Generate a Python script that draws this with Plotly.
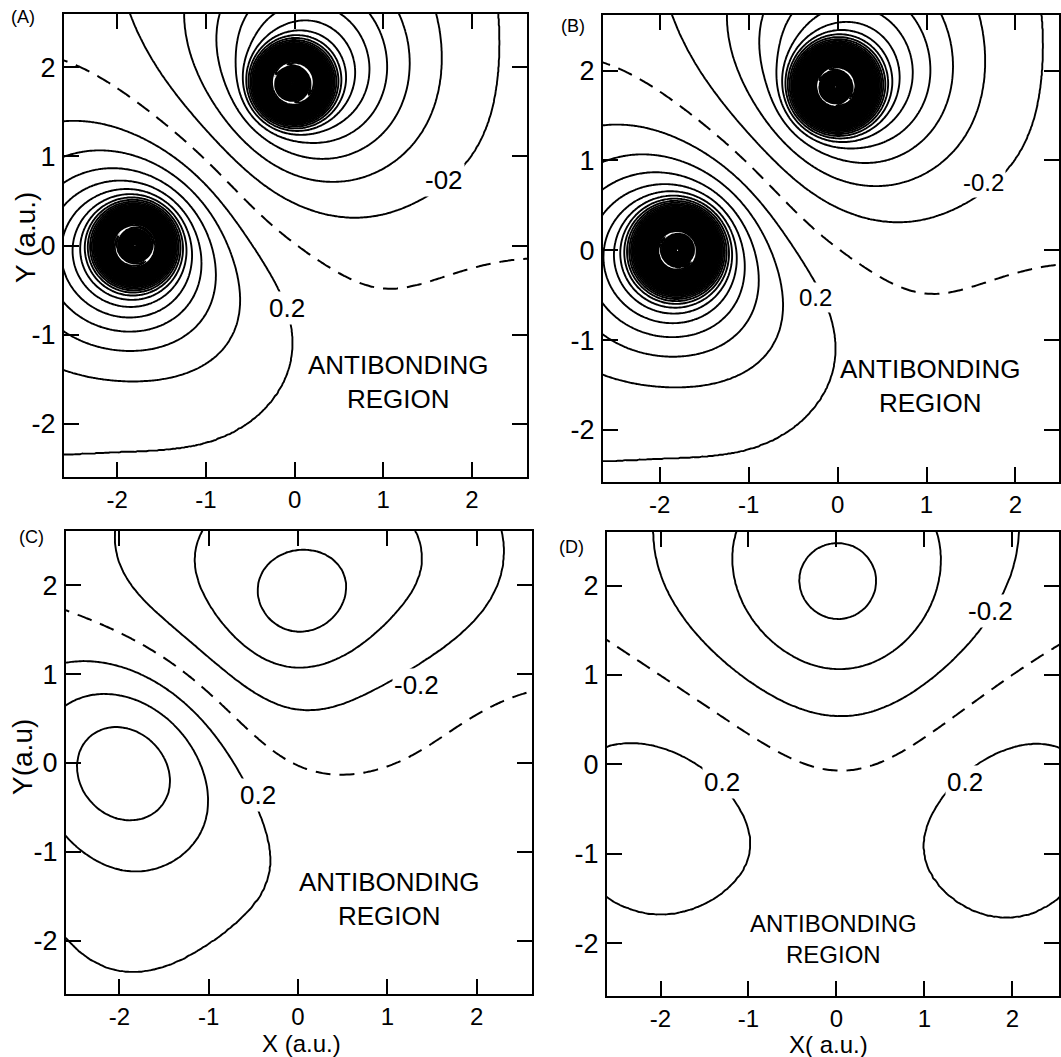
import numpy as np
import plotly.graph_objects as go

FONT = "Liberation Sans, Arial, Helvetica, sans-serif"
W, H = 1061, 1057

# ---------------------------------------------------------------- ticks
tick_vals = [-2, -1, 0, 1, 2]
tick_text = ["-2", "-1", "0", "1", "2"]

# ================================================================ panel A (valence part shared with B)
AB_atom_x = [-1.80, -0.02]
AB_atom_y = [0.00, 1.82]
AB_atom_sign = [1.0, -1.0]
A_core = [25.0, 0.25, 28.5, 0.17]      # core ripple amplitudes / widths
B_core = [22.0, 0.28, 24.0, 0.15]

# contour points: one list per contour line
AB_levels = [0.0, -0.2, -0.4, -0.6, -0.8, -1.0, -1.2, 0.2, 0.4, 0.6, 0.8, 1.0]
AB_line_x = [
    [-2.60, -1.93, -1.29, -0.66, -0.09, 0.47, 1.03, 1.78, 2.55],
    [-1.82, -1.40, -0.66, 0.00, 0.47, 1.03, 1.54, 1.91, 2.15, 2.38, 2.47],
    [-1.26, -1.10, -0.84, -0.47, 0.00, 0.36, 1.03, 1.40, 1.63, 1.55, 1.54],
    [1.20, 1.22],
    [0.99],
    [0.82],
    [0.73],
    [-2.60, -1.97, -0.35, -0.26, -0.18, -0.22, -0.37, -1.05, -1.80, -2.60],
    [-2.60, -1.97, -0.73, -0.52, -0.67, -1.05, -1.80, -2.60],
    [-0.96, -1.80],
    [-1.07, -1.80],
    [-1.16, -1.80],
]
AB_line_y = [
    [2.08, 1.72, 1.18, 0.62, 0.09, -0.28, -0.46, -0.38, -0.06],
    [2.60, 1.75, 0.84, 0.38, 0.28, 0.38, 0.62, 0.99, 1.40, 1.89, 2.60],
    [2.60, 2.08, 1.52, 1.14, 0.84, 0.77, 0.84, 1.07, 1.52, 2.08, 2.60],
    [2.60, 1.82],
    [1.82],
    [1.82],
    [1.82],
    [1.33, 1.40, 0.00, -0.51, -0.92, -1.35, -1.91, -2.40, -2.49, -2.40],
    [1.05, 1.07, 0.00, -0.45, -0.97, -1.35, -1.50, -1.35],
    [0.00, -1.12],
    [0.00, -0.97],
    [0.00, -0.83],
]
AB_anchor_x = [1.5, 2.3, 0.5, 1.0, 2.4, 2.45, -2.5, 2.55, -2.55]
AB_anchor_y = [-1.5, -2.3, -2.3, -1.0, -1.3, 0.45, 2.5, 2.55, -2.55]
AB_anchor_v = [0.08, 0.07, 0.12, 0.08, 0.07, -0.08, -0.12, -0.17, 0.18]

# ================================================================ panel C
C_atom_x = [-1.87, 0.04]
C_atom_y = [-0.12, 1.82]
C_levels = [0.0, -0.2, -0.4, -0.6, 0.2, 0.4, 0.6]
C_line_x = [
    [-2.60, -1.63, -0.68, 0.08, 0.60, 1.59, 2.60],
    [-1.97, -1.63, -1.21, -0.68, -0.11, 0.45, 1.10, 1.59, 1.97, 2.27],
    [-1.26, -1.21, -0.91, -0.38, 0.08, 0.64, 1.02, 1.32, 1.36],
    [-0.45, 0.53, 0.04, 0.04],
    [-2.60, -2.19, -1.63, -1.06, -0.68, -0.60, -0.42, -0.34, -0.45, -0.87, -1.21, -1.89, -2.60],
    [-2.60, -1.89, -1.06, -1.02, -1.89, -2.60],
    [-2.38, -1.87, -1.38, -1.87],
]
C_line_y = [
    [1.68, 1.25, 0.40, -0.03, -0.17, 0.24, 0.90],
    [2.60, 2.03, 1.53, 1.06, 0.79, 0.75, 0.95, 1.20, 1.64, 2.60],
    [2.60, 1.88, 1.41, 1.16, 1.12, 1.25, 1.53, 2.03, 2.60],
    [1.82, 1.82, 2.25, 1.38],
    [1.00, 1.02, 0.86, 0.47, 0.01, -0.26, -0.54, -1.08, -1.55, -1.94, -2.17, -2.29, -2.11],
    [0.81, 0.94, 0.05, -0.30, -1.18, -0.91],
    [-0.15, 0.38, -0.09, -0.63],
]
C_anchor_x = [-1.87, 0.04, 1.5, 2.3, 0.5, 1.0, 2.4, 2.45, -2.5, 2.55, -2.55, 0.6]
C_anchor_y = [-0.12, 1.82, -1.5, -2.3, -2.3, -1.0, -1.3, 0.3, 2.5, 2.55, -2.55, -0.6]
C_anchor_v = [0.70, -0.70, 0.08, 0.07, 0.12, 0.09, 0.07, 0.04, -0.12, -0.15, 0.15, 0.10]

# ================================================================ panel D
D_atom_x = [0.015, -2.0, 1.9]
D_atom_y = [2.05, -0.7, -0.7]
D_levels = [0.0, -0.2, -0.4, -0.6, 0.2, 0.2]
D_line_x = [
    [-2.59, -1.56, -0.80, 0.00, 0.72, 1.48, 2.50],
    [-2.11, -1.75, -1.18, -0.42, 0.02, 0.53, 1.10, 1.59, 1.86, 2.09],
    [-1.18, -1.10, -0.80, -0.42, 0.02, 0.53, 0.91, 1.16, 1.18],
    [-0.38, 0.41, 0.015, 0.015],
    [-2.59, -2.24, -1.82, -1.56, -1.31, -1.18, -1.04, -1.10, -1.40, -1.82, -2.20, -2.59],
    [2.50, 2.16, 1.78, 1.52, 1.46, 1.21, 1.02, 1.02, 1.25, 1.67, 2.16, 2.50],
]
D_line_y = [
    [1.40, 0.66, 0.19, -0.03, 0.11, 0.62, 1.32],
    [2.60, 1.75, 1.16, 0.70, 0.58, 0.66, 0.97, 1.52, 1.95, 2.53],
    [2.60, 1.87, 1.40, 1.13, 1.03, 1.16, 1.52, 2.06, 2.60],
    [2.05, 2.05, 2.43, 1.67],
    [0.21, 0.27, 0.19, 0.03, -0.20, -0.40, -0.98, -1.34, -1.61, -1.69, -1.61, -1.43],
    [0.19, 0.25, 0.17, 0.03, -0.20, -0.40, -0.87, -1.26, -1.57, -1.71, -1.65, -1.41],
]
D_anchor_x = [0.015, -2.0, 1.9, 0.0, 0.0, -0.6, 0.6, -2.4, 2.4, -1.6, 1.7, -2.5, 2.5, -2.5, 2.5]
D_anchor_y = [2.05, -0.7, -0.7, -1.0, -2.0, -2.4, -2.4, 1.9, 2.0, 1.1, 1.1, 2.55, 2.55, -2.5, -2.5]
D_anchor_v = [-0.72, 0.32, 0.32, 0.10, 0.08, 0.09, 0.09, -0.10, -0.10, -0.10, -0.10, -0.15, -0.15, 0.12, 0.12]

# ================================================================ texts
A_labels = [("-02", 1.69, 0.74), ("0.2", -0.08, -0.70)]
B_labels = [("-0.2", 1.64, 0.75), ("0.2", -0.25, -0.53)]
C_labels = [("-0.2", 1.33, 0.88), ("0.2", -0.45, -0.36)]
D_labels = [("-0.2", 1.75, 1.72), ("0.2", -1.30, -0.20), ("0.2", 1.46, -0.20)]
region_lines = ["ANTIBONDING", "REGION"]
region_xy = [(1.17, -1.535), (1.04, -1.51), (1.02, -1.53), (-0.03, -1.955)]
region_size = [26, 26, 26, 24]


# ================================================================ field model
BUMP_CENTRES = [-2.0, -0.67, 0.67, 2.0]
BUMP_SIGMA = 0.9


def radial_exp(r, z):
    return np.exp(-z * r)


def radial_gauss(r, s):
    return np.exp(-r * r / (2.0 * s * s))


def build_basis(atom_x, atom_y, radial, s_list, p_list):
    funcs, regs = [], []
    for ax, ay in zip(atom_x, atom_y):
        for s in s_list:
            funcs.append(lambda X, Y, ax=ax, ay=ay, s=s: radial(np.hypot(X - ax, Y - ay), s))
            regs.append(1e-3)
        for s in p_list:
            funcs.append(lambda X, Y, ax=ax, ay=ay, s=s: (X - ax) * radial(np.hypot(X - ax, Y - ay), s))
            regs.append(2e-3)
            funcs.append(lambda X, Y, ax=ax, ay=ay, s=s: (Y - ay) * radial(np.hypot(X - ax, Y - ay), s))
            regs.append(2e-3)
    for bx in BUMP_CENTRES:
        for by in BUMP_CENTRES:
            funcs.append(lambda X, Y, bx=bx, by=by:
                         np.exp(-((X - bx) ** 2 + (Y - by) ** 2) / (2 * BUMP_SIGMA ** 2)))
            regs.append(0.05)
    return funcs, regs


def make_core(atom_x, atom_y, signs, core):
    c1, w1, c2, w2 = core

    def f(X, Y):
        out = np.zeros(np.shape(X), dtype=float)
        for ax, ay, sg in zip(atom_x, atom_y, signs):
            r2 = (X - ax) ** 2 + (Y - ay) ** 2
            out = out + sg * (c1 * np.exp(-r2 / w1 ** 2) - c2 * np.exp(-r2 / w2 ** 2))
        return out
    return f


def zero_fn(X, Y):
    return np.zeros(np.shape(X), dtype=float)


def fit_field(funcs, regs, levels, line_x, line_y, anc_x, anc_y, anc_v, fixed):
    px, py, pv, pw = [], [], [], []
    for lev, xs, ys in zip(levels, line_x, line_y):
        for x, y in zip(xs, ys):
            px.append(x)
            py.append(y)
            pv.append(lev)
            pw.append(2.0 if lev == 0 else 1.0)
    for x, y, v in zip(anc_x, anc_y, anc_v):
        px.append(x)
        py.append(y)
        pv.append(v)
        pw.append(0.7)
    px, py, pv, pw = map(np.asarray, (px, py, pv, pw))
    M = np.stack([f(px, py) for f in funcs], axis=1) * pw[:, None]
    t = (pv - fixed(px, py)) * pw
    R = np.diag(np.sqrt(regs))
    coef = np.linalg.lstsq(np.vstack([M, R]), np.concatenate([t, np.zeros(len(funcs))]), rcond=None)[0]

    def field(X, Y):
        out = fixed(X, Y)
        for c, f in zip(coef, funcs):
            out = out + c * f(X, Y)
        return out
    return field


# A / B
ab_funcs, ab_regs = build_basis(AB_atom_x, AB_atom_y, radial_exp, [0.6, 1.2, 2.5], [0.8, 1.6])
coreA = make_core(AB_atom_x, AB_atom_y, AB_atom_sign, A_core)
coreB = make_core(AB_atom_x, AB_atom_y, AB_atom_sign, B_core)
fieldA = fit_field(ab_funcs, ab_regs, AB_levels, AB_line_x, AB_line_y,
                   AB_anchor_x, AB_anchor_y, AB_anchor_v, coreA)


def fieldB(X, Y):
    return fieldA(X, Y) - coreA(X, Y) + coreB(X, Y)


c_funcs, c_regs = build_basis(C_atom_x, C_atom_y, radial_gauss, [0.5, 0.9, 1.5], [0.9])
fieldC = fit_field(c_funcs, c_regs, C_levels, C_line_x, C_line_y,
                   C_anchor_x, C_anchor_y, C_anchor_v, zero_fn)
d_funcs, d_regs = build_basis(D_atom_x, D_atom_y, radial_gauss, [0.5, 0.9, 1.5], [0.9])
fieldD = fit_field(d_funcs, d_regs, D_levels, D_line_x, D_line_y,
                   D_anchor_x, D_anchor_y, D_anchor_v, zero_fn)

# ================================================================ figure
fig = go.Figure()

panels = [
    dict(field=fieldA, n=271, top=40.0, ax="x", ay="y",
         xdom=[64 / W, 528 / W], ydom=[1 - 477 / H, 1 - 14 / H], xr=[-2.60, 2.62], yr=[-2.60, 2.60]),
    dict(field=fieldB, n=271, top=40.0, ax="x2", ay="y2",
         xdom=[604 / W, 1.0], ydom=[1 - 482 / H, 1 - 15 / H], xr=[-2.64, 2.49], yr=[-2.58, 2.62]),
    dict(field=fieldC, n=181, top=4.0, ax="x3", ay="y3",
         xdom=[66 / W, 533 / W], ydom=[1 - 994 / H, 1 - 531 / H], xr=[-2.60, 2.62], yr=[-2.60, 2.61]),
    dict(field=fieldD, n=181, top=4.0, ax="x4", ay="y4",
         xdom=[608 / W, 1.0], ydom=[1 - 996 / H, 1 - 532 / H], xr=[-2.61, 2.53], yr=[-2.59, 2.60]),
]

LINE_W = 1.9
for p in panels:
    g = np.linspace(-2.72, 2.72, p["n"])
    X, Y = np.meshgrid(g, g)
    Z = np.round(p["field"](X, Y), 3)
    common = dict(x=np.round(g, 4), y=np.round(g, 4), z=Z, xaxis=p["ax"], yaxis=p["ay"],
                  autocontour=False, showscale=False, hoverinfo="skip")
    fig.add_trace(go.Contour(**common,
                             contours=dict(start=0.2, end=p["top"], size=0.2, coloring="none"),
                             line=dict(color="black", width=LINE_W)))
    fig.add_trace(go.Contour(**common,
                             contours=dict(start=-p["top"], end=-0.2, size=0.2, coloring="none"),
                             line=dict(color="black", width=LINE_W)))
    gc = np.linspace(-2.72, 2.72, 161)
    Xc, Yc = np.meshgrid(gc, gc)
    Zc = np.round(p["field"](Xc, Yc), 4)
    fig.add_trace(go.Contour(x=np.round(gc, 4), y=np.round(gc, 4), z=Zc, xaxis=p["ax"], yaxis=p["ay"],
                             autocontour=False, showscale=False, hoverinfo="skip",
                             contours=dict(start=0.0, end=0.0, size=1.0, coloring="none"),
                             line=dict(color="black", width=2.0, dash="15px,9px")))

xfont = dict(family=FONT, size=24, color="black")
yfont = dict(family=FONT, size=27, color="black")
layout_axes = {}
for i, p in enumerate(panels, start=1):
    sfx = "" if i == 1 else str(i)
    layout_axes["xaxis" + sfx] = dict(
        domain=p["xdom"], range=p["xr"], anchor=p["ay"], tickmode="array",
        tickvals=tick_vals, ticktext=tick_text, ticks="inside", ticklen=15, tickwidth=2,
        tickcolor="black", showline=True, linewidth=2, linecolor="black", mirror="ticks",
        showgrid=False, zeroline=False, tickfont=xfont, ticklabelstandoff=0, fixedrange=True)
    layout_axes["yaxis" + sfx] = dict(
        domain=p["ydom"], range=p["yr"], anchor=p["ax"], tickmode="array",
        tickvals=tick_vals, ticktext=tick_text, ticks="inside", ticklen=15, tickwidth=2,
        tickcolor="black", showline=True, linewidth=2, linecolor="black", mirror="ticks",
        showgrid=False, zeroline=False, tickfont=yfont, ticklabelstandoff=1, fixedrange=True)

annotations = []


def add_text(text, x, y, xref, yref, size, bg=None, angle=0):
    a = dict(text=text, x=x, y=y, xref=xref, yref=yref, showarrow=False,
             font=dict(family=FONT, size=size, color="black"), textangle=angle,
             xanchor="center", yanchor="middle")
    if bg:
        a.update(bgcolor=bg, borderpad=1)
    annotations.append(a)


for labels, p, size in [(A_labels, panels[0], 26), (B_labels, panels[1], 24),
                        (C_labels, panels[2], 26), (D_labels, panels[3], 26)]:
    for t, x, y in labels:
        add_text(t, x, y, p["ax"], p["ay"], size, bg="white")

for (x, y), p, size in zip(region_xy, panels, region_size):
    add_text("<br>".join(region_lines), x, y, p["ax"], p["ay"], size)

# panel letters and axis titles (paper coordinates)
add_text("(A)", 23 / W, 1 - 17 / H, "paper", "paper", 18)
add_text("(B)", 574 / W, 1 - 26 / H, "paper", "paper", 18)
add_text("(C)", 32 / W, 1 - 537 / H, "paper", "paper", 18)
add_text("(D)", 573 / W, 1 - 547 / H, "paper", "paper", 18)
add_text("Y (a.u.)", 25 / W, 1 - 237 / H, "paper", "paper", 28, angle=-90)
add_text("Y(a.u)", 22 / W, 1 - 757 / H, "paper", "paper", 28, angle=-90)
add_text("X (a.u.)", 302 / W, 1 - 1043 / H, "paper", "paper", 24)
add_text("X( a.u.)", 830 / W, 1 - 1044 / H, "paper", "paper", 24)

fig.update_layout(
    width=W, height=H, autosize=False,
    margin=dict(l=0, r=0, t=0, b=0, pad=0),
    paper_bgcolor="white", plot_bgcolor="white",
    showlegend=False, annotations=annotations, **layout_axes)

fig.write_html("out.html")
